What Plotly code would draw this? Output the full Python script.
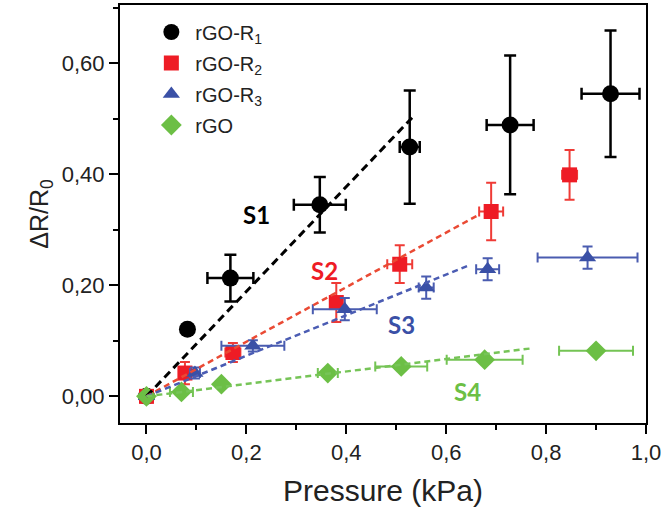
import plotly.graph_objects as go

# Relative resistance change vs. applied pressure for four sensor types
series_names = ["rGO-R<sub>1</sub>", "rGO-R<sub>2</sub>", "rGO-R<sub>3</sub>", "rGO"]

r1_x = [0.0, 0.082, 0.168, 0.347, 0.527, 0.728, 0.929]
r1_y = [0.0, 0.121, 0.213, 0.345, 0.449, 0.489, 0.545]
r1_xerr = [0.0, 0.0, 0.046, 0.052, 0.020, 0.047, 0.058]
r1_yerr = [0.010, 0.0, 0.042, 0.050, 0.102, 0.125, 0.114]

r2_x = [0.0, 0.077, 0.173, 0.380, 0.507, 0.690, 0.847]
r2_y = [0.0, 0.042, 0.079, 0.169, 0.238, 0.333, 0.399]
r2_xerr = [0.0, 0.012, 0.015, 0.010, 0.025, 0.024, 0.015]
r2_yerr = [0.0, 0.020, 0.017, 0.035, 0.034, 0.052, 0.045]

r3_x = [0.0, 0.097, 0.213, 0.397, 0.560, 0.683, 0.883]
r3_y = [0.0, 0.042, 0.091, 0.157, 0.196, 0.229, 0.250]
r3_xerr = [0.0, 0.010, 0.063, 0.064, 0.015, 0.023, 0.100]
r3_yerr = [0.0, 0.010, 0.010, 0.020, 0.020, 0.020, 0.020]

rgo_x = [0.0, 0.070, 0.150, 0.363, 0.510, 0.677, 0.900]
rgo_y = [0.0, 0.008, 0.022, 0.042, 0.054, 0.066, 0.082]
rgo_xerr = [0.0, 0.023, 0.0, 0.020, 0.052, 0.076, 0.074]

# Linear fits (sensitivity regions S1..S4): start and end points
fit_labels = ["S1", "S2", "S3", "S4"]
fit_x = [[0.0, 0.537], [0.0, 0.667], [0.0, 0.643], [0.0, 0.767]]
fit_y = [[0.0, 0.507], [0.0, 0.328], [0.0, 0.235], [0.0, 0.086]]
label_x = [0.22, 0.357, 0.51, 0.643]
label_y = [0.327, 0.226, 0.13, 0.008]

# Axis ticks
x_major = [0.0, 0.2, 0.4, 0.6, 0.8, 1.0]
y_major = [0.0, 0.2, 0.4, 0.6]

marker_colors = ["#000000", "#ee1c25", "#3a50a6", "#6cbf45"]
bar_colors = ["#000000", "#ef3b36", "#4a5cb0", "#74c454"]
line_colors = ["#000000", "#ea4a34", "#4b5cb3", "#76c457"]
symbols = ["circle", "square", "triangle-up", "diamond"]
sizes = [17, 15, 15, 16]

fig = go.Figure()

data = [
    (r1_x, r1_y, r1_xerr, r1_yerr),
    (r2_x, r2_y, r2_xerr, r2_yerr),
    (r3_x, r3_y, r3_xerr, r3_yerr),
    (rgo_x, rgo_y, rgo_xerr, None),
]

for i, (xs, ys, xe, ye) in enumerate(data):
    thick = 2.5 if i == 0 else 2
    cap = 6 if i == 0 else 5
    fig.add_trace(go.Scatter(
        x=xs, y=ys, mode="markers", name=series_names[i],
        legendgroup="g%d" % i,
        marker=dict(symbol=symbols[i], size=sizes[i], color=marker_colors[i],
                    line=dict(width=0)),
        error_x=dict(type="data", array=xe, visible=True, color=bar_colors[i],
                     thickness=thick, width=cap),
        error_y=dict(type="data", array=ye if ye is not None else [0] * len(xs),
                     visible=ye is not None, color=bar_colors[i],
                     thickness=thick, width=cap),
    ))

for i in range(4):
    fig.add_trace(go.Scatter(
        x=fit_x[i], y=fit_y[i], mode="lines", showlegend=False,
        line=dict(color=line_colors[i], width=3 if i == 0 else 2.5,
                  dash="8px,5px" if i == 0 else "6px,4px"),
        hoverinfo="skip",
    ))
    fig.add_annotation(
        x=label_x[i], y=label_y[i], text="<b>%s</b>" % fit_labels[i],
        showarrow=False, font=dict(family="Lato", size=24, color=marker_colors[i]),
    )

axis_common = dict(
    showline=True, linewidth=2, linecolor="black", mirror=True,
    ticks="outside", ticklen=9, tickwidth=2, tickcolor="black",
    showgrid=False, zeroline=False,
    tickfont=dict(family="Liberation Sans", size=22, color="#222222"),
)

fig.update_xaxes(
    range=[-0.053, 1.0], tickvals=x_major, tickformat=".1f",
    minor=dict(ticks="outside", ticklen=5, tickwidth=2, tickcolor="black", dtick=0.1, tick0=0),
    title=dict(text="Pressure (kPa)", font=dict(family="Liberation Sans", size=30, color="#222222"),
               standoff=16),
    **axis_common,
)
fig.update_yaxes(
    range=[-0.048, 0.705], tickvals=y_major, tickformat=".2f",
    minor=dict(ticks="outside", ticklen=5, tickwidth=2, tickcolor="black", dtick=0.1, tick0=0),
    title=dict(text="ΔR/R<sub>0</sub>", font=dict(family="Liberation Sans", size=25, color="#222222"),
               standoff=6),
    **axis_common,
)

fig.update_layout(
    width=666, height=517,
    margin=dict(l=120, r=20, t=3, b=94),
    paper_bgcolor="white", plot_bgcolor="white",
    separators=",.",
    showlegend=True,
    legend=dict(
        x=0.052, y=0.982, xanchor="left", yanchor="top",
        bgcolor="rgba(0,0,0,0)",
        font=dict(family="Liberation Sans", size=20, color="#222222"),
        itemsizing="trace", itemwidth=38, tracegroupgap=2,
    ),
)

fig.write_html("out.html")
